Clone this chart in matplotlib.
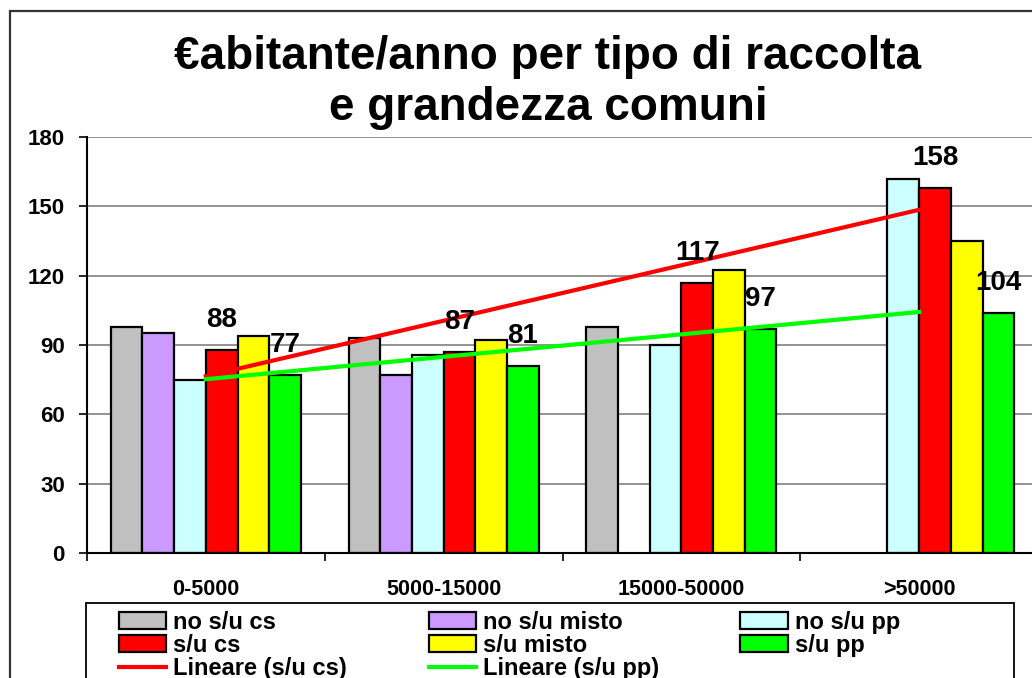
import numpy as np
import matplotlib.pyplot as plt
from matplotlib.patches import Patch, Rectangle
from matplotlib.lines import Line2D

plt.rcParams['font.family'] = ['Liberation Sans', 'DejaVu Sans']
plt.rcParams['font.weight'] = 'bold'

# data
categories = ['0-5000', '5000-15000', '15000-50000', '>50000']
no_su_cs = [98, 93, 98, np.nan]
no_su_misto = [95, 77, np.nan, np.nan]
no_su_pp = [75, 85.5, 90, 162]
su_cs = [88, 87, 117, 158]
su_misto = [94, 92, 122.5, 135]
su_pp = [77, 81, 97, 104]

series = [
    ('no s/u cs', no_su_cs, '#C0C0C0'),
    ('no s/u misto', no_su_misto, '#CC99FF'),
    ('no s/u pp', no_su_pp, '#CCFFFF'),
    ('s/u cs', su_cs, '#FF0000'),
    ('s/u misto', su_misto, '#FFFF00'),
    ('s/u pp', su_pp, '#00FF00'),
]
labelled = ['s/u cs', 's/u pp']

W, H = 1032, 678
fig = plt.figure(figsize=(W / 100, H / 100), dpi=100)
ax = fig.add_axes([87 / W, 1 - 553 / H, (1038 - 87) / W, (553 - 137) / H])

x = np.arange(len(categories))
width = 0.8 / len(series)
for i, (name, vals, color) in enumerate(series):
    pos = x + (i - 2.5) * width
    ax.bar(pos, vals, width, color=color, edgecolor='black', linewidth=1.6, zorder=2)
    if name in labelled:
        for px, v in zip(pos, vals):
            ax.annotate(f'{v:.0f}', (px, v), xytext=(0, 21.5), textcoords='offset points',
                        ha='center', va='center', fontsize=20, fontweight='bold', zorder=5)

# linear trend lines
for vals, color in [(su_cs, '#FF0000'), (su_pp, '#00FF00')]:
    fit = np.polyfit(x, vals, 1)
    ax.plot(x, np.polyval(fit, x), color=color, linewidth=3, zorder=4)

ax.set_ylim(0, 180)
ax.set_yticks(np.arange(0, 181, 30))
ax.set_xlim(-0.5, len(categories) - 0.5)
ax.set_xticks(np.arange(len(categories) + 1) - 0.5)
ax.set_xticklabels([])
ax.set_xticks(x, minor=True)
ax.set_xticklabels(categories, minor=True)
ax.tick_params(axis='x', which='minor', length=0, pad=19, labelsize=15.5)
ax.tick_params(axis='x', which='major', length=6, width=1.2, direction='out')
ax.tick_params(axis='y', length=6, width=1.2, direction='out', pad=10, labelsize=16)
ax.grid(axis='y', color='#808080', linewidth=1.2)
ax.set_axisbelow(True)
for s in ['top', 'right']:
    ax.spines[s].set_visible(False)
for s in ['left', 'bottom']:
    ax.spines[s].set_linewidth(1.5)

fig.text(548 / W, 1 - 35 / H, '€abitante/anno per tipo di raccolta\ne grandezza comuni',
         ha='center', va='top', fontsize=33, fontweight='bold', linespacing=1.22)

# legend, filled row by row like the original
h = {name: Patch(facecolor=color, edgecolor='black', linewidth=1.6) for name, _, color in series}
lin_cs = Line2D([], [], color='#FF0000', linewidth=3)
lin_pp = Line2D([], [], color='#00FF00', linewidth=3)
handles = [h['no s/u cs'], h['s/u cs'], lin_cs,
           h['no s/u misto'], h['s/u misto'], lin_pp,
           h['no s/u pp'], h['s/u pp']]
labels = ['no s/u cs', 's/u cs', 'Lineare (s/u cs)',
          'no s/u misto', 's/u misto', 'Lineare (s/u pp)',
          'no s/u pp', 's/u pp']
fig.legend(handles, labels, loc='upper left', bbox_to_anchor=(119 / W, 1 - 611 / H),
           ncol=3, frameon=False, borderpad=0, borderaxespad=0,
           handlelength=2.0, handleheight=0.7, handletextpad=0.3, columnspacing=3.45,
           labelspacing=0.0, prop={'weight': 'bold', 'size': 17})
fig.add_artist(Rectangle((86 / W, -0.2), (1014 - 86) / W, 0.2 + 1 - 603 / H,
                         transform=fig.transFigure, fill=False, edgecolor='black', linewidth=1.3))

# outer chart border
fig.add_artist(Rectangle((10 / W, -0.2), 1.2, 0.2 + 1 - 11 / H,
                         transform=fig.transFigure, fill=False, edgecolor='#333333', linewidth=1.6))

fig.savefig('out.png', dpi=100)
